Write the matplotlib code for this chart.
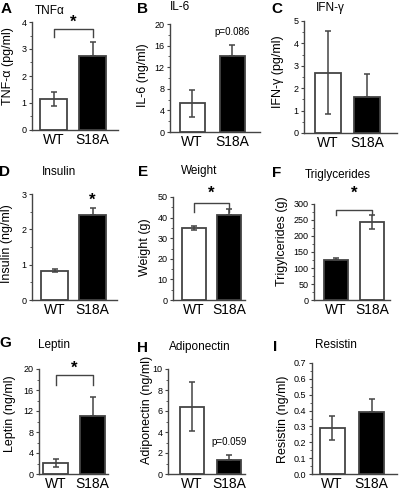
import matplotlib.pyplot as plt
from matplotlib.ticker import MultipleLocator

plt.rcParams['font.family'] = ['Liberation Sans', 'DejaVu Sans']

# data
letters = ["A", "B", "C", "D", "E", "F", "G", "H", "I"]
titles = ["TNFα", "IL-6", "IFN-γ", "Insulin", "Weight", "Triglycerides",
          "Leptin", "Adiponectin", "Resistin"]
ylabels = ["TNF-α (pg/ml)", "IL-6 (ng/ml)", "IFN-γ (pg/ml)", "Insulin (ng/ml)",
           "Weight (g)", "Trigylcerides (g)", "Leptin (ng/ml)",
           "Adiponectin (ng/ml)", "Resistin (ng/ml)"]
groups = ["WT", "S18A"]
wt_mean = [1.15, 5.3, 2.7, 0.83, 35.0, 125, 2.1, 6.4, 0.29]
wt_err = [0.25, 2.5, 1.85, 0.04, 1.0, 7, 0.7, 2.35, 0.075]
s18a_mean = [2.75, 14.0, 1.6, 2.4, 41.5, 243, 11.0, 1.35, 0.39]
s18a_err = [0.5, 2.2, 1.05, 0.2, 2.5, 22, 3.7, 0.5, 0.085]
ymax = [4, 20, 5, 3, 50, 300, 20, 10, 0.7]
major = [1, 4, 1, 1, 10, 50, 4, 2, 0.1]
minor = [0.5, 2, 0.5, 0.5, 5, 25, 2, 1, 0.05]
wt_black = [False, False, False, False, False, True, False, False, False]

# significance brackets: (panel, line y, foot y, star y)
brackets = [(0, 3.74, 3.44, 4.0), (4, 47, 42.7, 52), (5, 281, 265, 334),
            (6, 18.9, 17.0, 20.2)]
stars = [(3, 1, 2.83)]
ptexts = [(1, 1, 18.5, "p=0.086"), (7, 1, 3.05, "p=0.059")]

# layout in pixels: axis left, right, top, bottom, bar centres, bar width
W, H = 400, 492
layout = [
    (32, 118, 22, 130, 53.5, 92.5, 27),
    (170, 260, 24, 132, 192, 232, 25),
    (304, 397, 21, 133, 328, 367, 26),
    (32, 117, 194, 300, 54.5, 92.5, 27),
    (173, 245, 197, 300, 194, 229, 24),
    (314, 390, 204, 300, 336, 372, 24),
    (39, 108, 369, 474, 55.5, 92.5, 25),
    (168, 245, 369, 474, 192, 229, 24),
    (312, 397, 363, 474, 332, 371.5, 25),
]
letter_pos = [(6, 9), (142, 9), (277, 9), (5, 172), (143, 172), (277, 173),
              (5, 343), (143, 348), (275, 347)]
title_pos = [(50, 11), (180, 7), (330, 8), (59, 172), (199, 171), (338, 175),
             (54, 345), (200, 347), (336, 345)]
# y label centre (pixels)
ylabel_pos = [(8, 66), (143, 75), (278, 72), (7, 244), (145, 247), (282, 241),
              (10, 414), (147, 410), (283, 419)]

edge = "#444444"
fig = plt.figure(figsize=(W / 100, H / 100), dpi=100)

axes = []
for i in range(9):
    l, r, t, b, c1, c2, bw = layout[i]
    ax = fig.add_axes([l / W, 1 - b / H, (r - l) / W, (b - t) / H])
    axes.append(ax)
    s = c2 - c1
    ax.set_xlim((l - c1) / s, (r - c1) / s)
    ax.set_ylim(0, ymax[i])

    means = [wt_mean[i], s18a_mean[i]]
    errs = [wt_err[i], s18a_err[i]]
    cols = ["black", "white"] if wt_black[i] else ["white", "black"]
    for k in range(2):
        ax.bar(k, means[k], width=bw / s, color=cols[k], edgecolor=edge,
               linewidth=1.3, zorder=2)
        lo = 0 if cols[k] == "black" else errs[k]
        ax.errorbar(k, means[k], yerr=[[lo], [errs[k]]], fmt="none",
                    ecolor=edge, elinewidth=1.1, capsize=2.2, capthick=1.1,
                    zorder=3)

    ax.set_xticks([0, 1])
    ax.set_xticklabels(groups, fontsize=10)
    ax.tick_params(axis="x", length=0, pad=2.5)
    ax.yaxis.set_major_locator(MultipleLocator(major[i]))
    ax.yaxis.set_minor_locator(MultipleLocator(minor[i]))
    ax.tick_params(axis="y", which="major", labelsize=6.5, length=2.5,
                   width=0.8, pad=1.5, color=edge)
    ax.tick_params(axis="y", which="minor", length=1.5, width=0.6, color=edge)
    for sp in ["top", "right"]:
        ax.spines[sp].set_visible(False)
    for sp in ["left", "bottom"]:
        ax.spines[sp].set_color(edge)
        ax.spines[sp].set_linewidth(1.0)

    yx, yy = ylabel_pos[i]
    ax.set_ylabel(ylabels[i], fontsize=9)
    ax.yaxis.set_label_coords((yx - l) / (r - l), (b - yy) / (b - t))
    ax.yaxis.label.set_verticalalignment("center")

    lx, ly = letter_pos[i]
    fig.text(lx / W, 1 - ly / H, letters[i], fontsize=11, fontweight="bold",
             ha="center", va="center")
    tx, ty = title_pos[i]
    fig.text(tx / W, 1 - ty / H, titles[i], fontsize=8.5, ha="center",
             va="center")

for i, yl, yf, ys in brackets:
    ax = axes[i]
    ax.plot([0, 0, 1, 1], [yf, yl, yl, yf], color=edge, lw=1.0,
            clip_on=False, zorder=4)
    ax.text(0.5, ys, "*", ha="center", va="center", fontsize=12,
            fontweight="bold", clip_on=False)

for i, k, ys in stars:
    axes[i].text(k, ys, "*", ha="center", va="center", fontsize=12,
                 fontweight="bold", clip_on=False)

for i, k, yp, txt in ptexts:
    axes[i].text(k, yp, txt, ha="center", va="center", fontsize=7)

fig.savefig("out.png", dpi=100)
